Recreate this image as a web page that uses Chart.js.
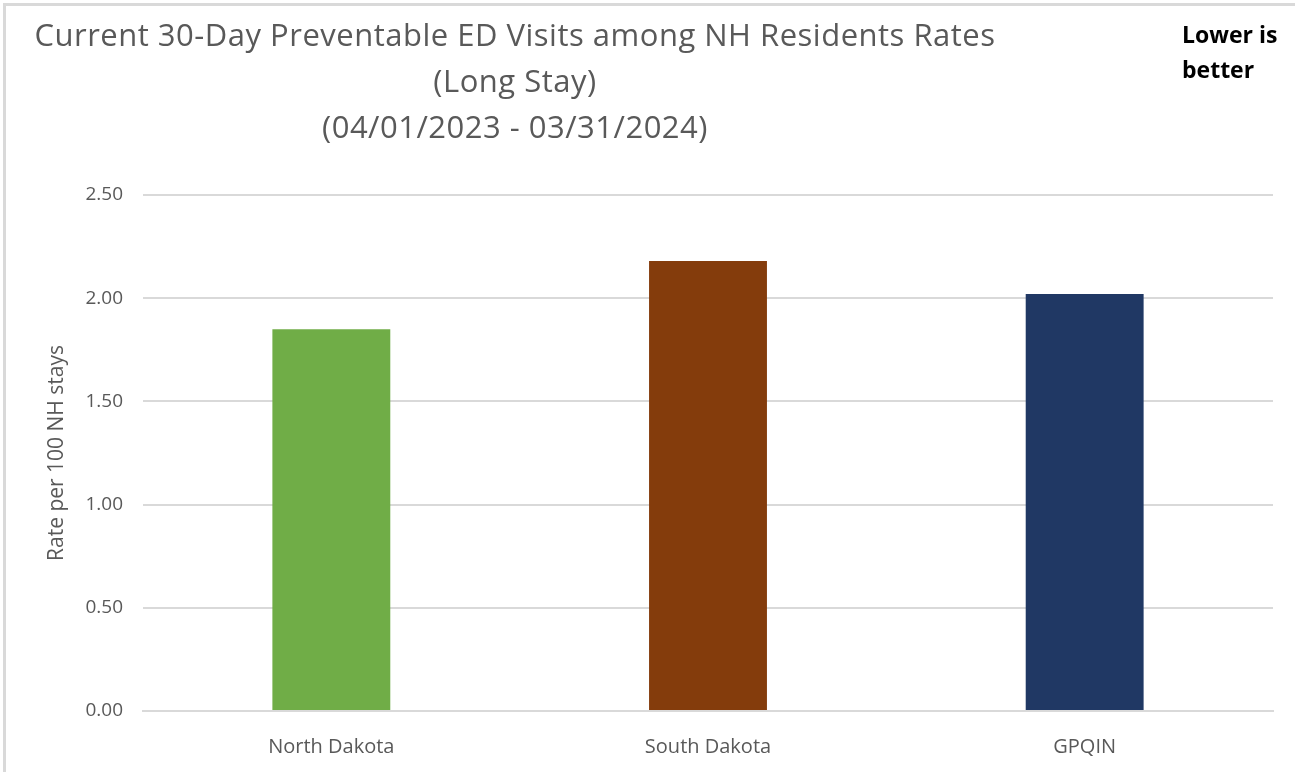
<!DOCTYPE html>
<html>
<head>
<meta charset="utf-8">
<script src="https://cdn.jsdelivr.net/npm/chart.js@4/dist/chart.umd.min.js"></script>
<style>
  html, body { margin: 0; padding: 0; background: #fff; }
  #wrap {
    position: relative;
    width: 1300px;
    height: 772px;
    overflow: hidden;
  }
  #frame {
    position: absolute;
    left: 3px; top: 3px; right: 5px; bottom: -10px;
    border-top: 3px solid #d9d9d9;
    border-left: 3px solid #d9d9d9;
  }
  #titre {
    position: absolute;
    left: 15px; width: 1000px; top: 11px;
    text-align: center;
    font-family: "Open Sans", sans-serif;
    font-size: 31px;
    letter-spacing: 0.5px;
    line-height: 46px;
    color: #595959;
  }
  #note {
    position: absolute;
    left: 1182px; top: 17px;
    font-family: "Open Sans", sans-serif;
    font-weight: bold;
    font-size: 23px;
    line-height: 35px;
    color: #000;
  }
  canvas { position: absolute; left: 0; top: 0; }
</style>
</head>
<body>
<div id="wrap">
  <div id="frame"></div>
  <canvas id="graph" width="1300" height="772"></canvas>
  <div id="titre">
    Current 30-Day Preventable ED Visits among NH Residents Rates<br>
    (Long Stay)<br>
    (04/01/2023 - 03/31/2024)
  </div>
  <div id="note">Lower is<br>better</div>
</div>
<script>
// catégories et taux
const regions = ["North Dakota", "South Dakota", "GPQIN"];
const taux = [1.85, 2.18, 2.02];
const couleurs = ["#70AD47", "#843C0C", "#203864"];
const axeY = { min: 0, max: 2.5, pas: 0.5 };

const gris = "#595959";

new Chart(document.getElementById("graph"), {
  type: "bar",
  data: {
    labels: regions,
    datasets: [{
      data: taux,
      backgroundColor: couleurs,
      borderWidth: 0,
      categoryPercentage: 1,
      barPercentage: 0.313
    }]
  },
  options: {
    responsive: false,
    animation: false,
    layout: { padding: { top: 195, left: 44, right: 27, bottom: 0 } },
    plugins: {
      legend: { display: false },
      tooltip: { enabled: false }
    },
    scales: {
      y: {
        min: axeY.min,
        max: axeY.max,
        afterFit: (s) => { s.width = 99; },
        ticks: {
          stepSize: axeY.pas,
          padding: 20,
          color: gris,
          font: { family: "Open Sans", size: 19 },
          callback: (v) => Number(v).toFixed(2)
        },
        grid: { color: "#d9d9d9", lineWidth: 2, drawTicks: false },
        border: { display: false },
        title: {
          display: true,
          text: "Rate per 100 NH stays",
          color: gris,
          font: { family: "Open Sans", size: 21 },
          padding: { top: 0, bottom: 0 }
        }
      },
      x: {
        afterFit: (s) => { s.height = 61; },
        ticks: {
          padding: 16,
          color: gris,
          font: { family: "Open Sans", size: 20 }
        },
        grid: { display: false },
        border: { color: "#d9d9d9", width: 2 }
      }
    }
  }
});
</script>
</body>
</html>
